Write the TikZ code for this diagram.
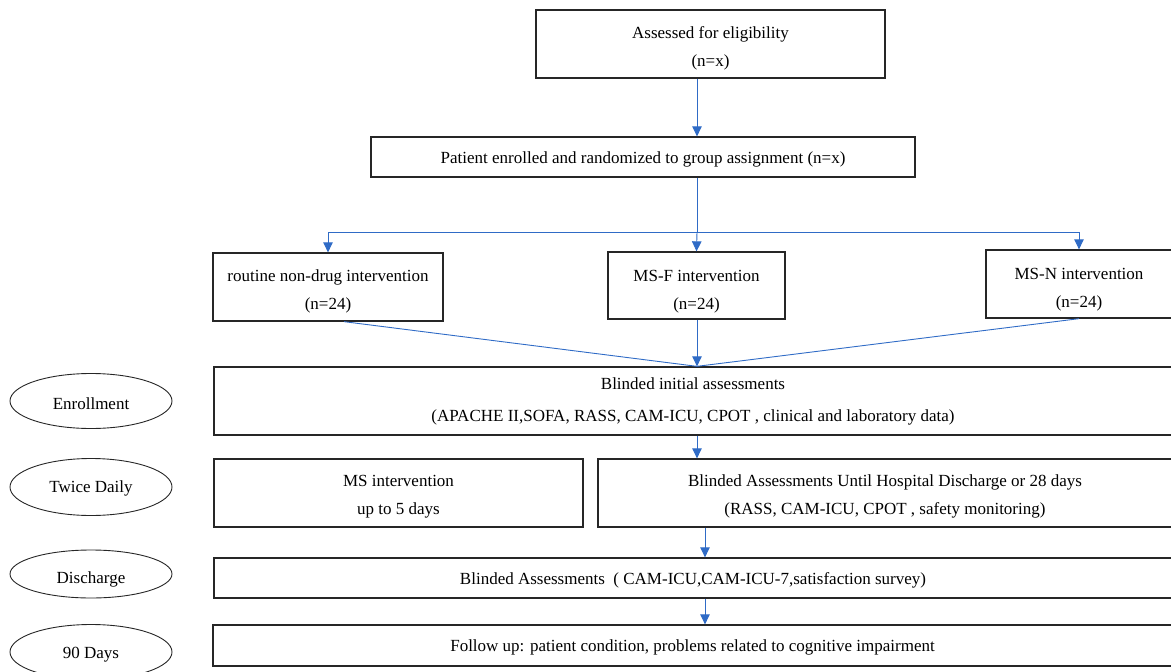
\documentclass[tikz,border=0pt]{standalone}
\usepackage{fontspec}
\setmainfont{Liberation Serif}
\usetikzlibrary{arrows.meta,shapes.geometric}
\definecolor{flowblue}{RGB}{47,107,198}
\tikzset{%
  >={Triangle[width=9.5pt,length=10pt]},
  % Specifications for style of nodes:
         base/.style = {rectangle, draw=black!85, line width=1.3pt, inner sep=0pt,
                        text centered, align=center, text height=16pt,
                        font=\fontsize{17}{28}\selectfont},
       twoline/.style = {base, text height=48pt},
  stage/.style = {ellipse, draw=black!85, line width=0.9pt, inner sep=0pt,
                  minimum width=162pt, text height=16pt, font=\fontsize{17}{20}\selectfont},
     flow/.style = {->, draw=flowblue, line width=0.9pt},
     link/.style = {draw=flowblue, line width=0.9pt},
}

\begin{document}
\begin{tikzpicture}[x=1pt, y=-1pt]
  \useasboundingbox (0,0) rectangle (1171,672);
  % axes of the arrows
  \coordinate (axis)  at (697,0);
  \coordinate (axisB) at (705,0);
  \coordinate (split) at (697,232);
  % Specification of nodes (position, etc.)
  \node (elig)    [twoline, minimum width=349pt, minimum height=68pt] at (710.5,44)
        {Assessed for eligibility\\(n=x)};
  \node (rand)    [base, text height=17pt, minimum width=544pt, minimum height=40pt] at (643,157)
        {Patient enrolled and randomized to group assignment (n=x)};
  \node (routine) [twoline, minimum width=230pt, minimum height=68pt] at (328,287)
        {routine non-drug intervention\\(n=24)};
  \node (msf)     [twoline, text height=52pt, minimum width=177pt, minimum height=67pt] at (696.5,285.5)
        {MS-F intervention\\(n=24)};
  \node (msn)     [twoline, text height=50pt, minimum width=186pt, minimum height=68pt] at (1079,284)
        {MS-N intervention\\(n=24)};
  \node (initial) [base, text height=44pt, minimum width=958pt, minimum height=68pt,
                   font=\fontsize{17}{32}\selectfont] at (693,401)
        {Blinded initial assessments\\(APACHE II,SOFA, RASS, CAM-ICU, CPOT , clinical and laboratory data)};
  \node (msint)   [twoline, text height=46pt, minimum width=369pt, minimum height=68pt] at (398.5,493)
        {MS intervention\\up to 5 days};
  \node (until)   [twoline, text height=46pt, minimum width=574pt, minimum height=68pt] at (885,493)
        {Blinded Assessments Until Hospital Discharge or 28 days\\(RASS, CAM-ICU, CPOT , safety monitoring)};
  \node (disch)   [base, text height=16pt, minimum width=958pt, minimum height=40pt] at (693,578)
        {Blinded Assessments~ ( CAM-ICU,CAM-ICU-7,satisfaction survey)};
  \node (follow)  [base, text height=16pt, minimum width=959pt, minimum height=41pt] at (692.5,645.5)
        {Follow up: patient condition, problems related to cognitive impairment};
  % stages on the left
  \node (enrol)   [stage, text height=18pt, minimum height=55pt] at (91,401) {Enrollment};
  \node (twice)   [stage, text height=15pt, minimum height=57pt] at (91,487) {Twice Daily};
  \node (dis)     [stage, text height=22pt, minimum height=48pt] at (91,574) {Discharge};
  \node (ninety)  [stage, minimum height=55pt] at (91,652) {90 Days};
  % Specification of lines between nodes specified above
  \draw[flow] (elig.south -| axis) -- (rand.north -| axis);
  \draw[link] (rand.south -| axis) -- (split);
  \draw[flow] (split) -| (routine.north);
  \draw[flow] (split) -| (msn.north);
  \draw[flow] (split) -- (msf.north);
  \draw[link] ([xshift=16pt]routine.south) -- (initial.north -| axis);
  \draw[link] (msn.south) -- (initial.north -| axis);
  \draw[flow] (msf.south -| axis) -- (initial.north -| axis);
  \draw[flow] (initial.south -| axis) -- (until.north -| axis);
  \draw[flow] (until.south -| axisB) -- (disch.north -| axisB);
  \draw[flow] (disch.south -| axisB) -- (follow.north -| axisB);
\end{tikzpicture}
\end{document}
